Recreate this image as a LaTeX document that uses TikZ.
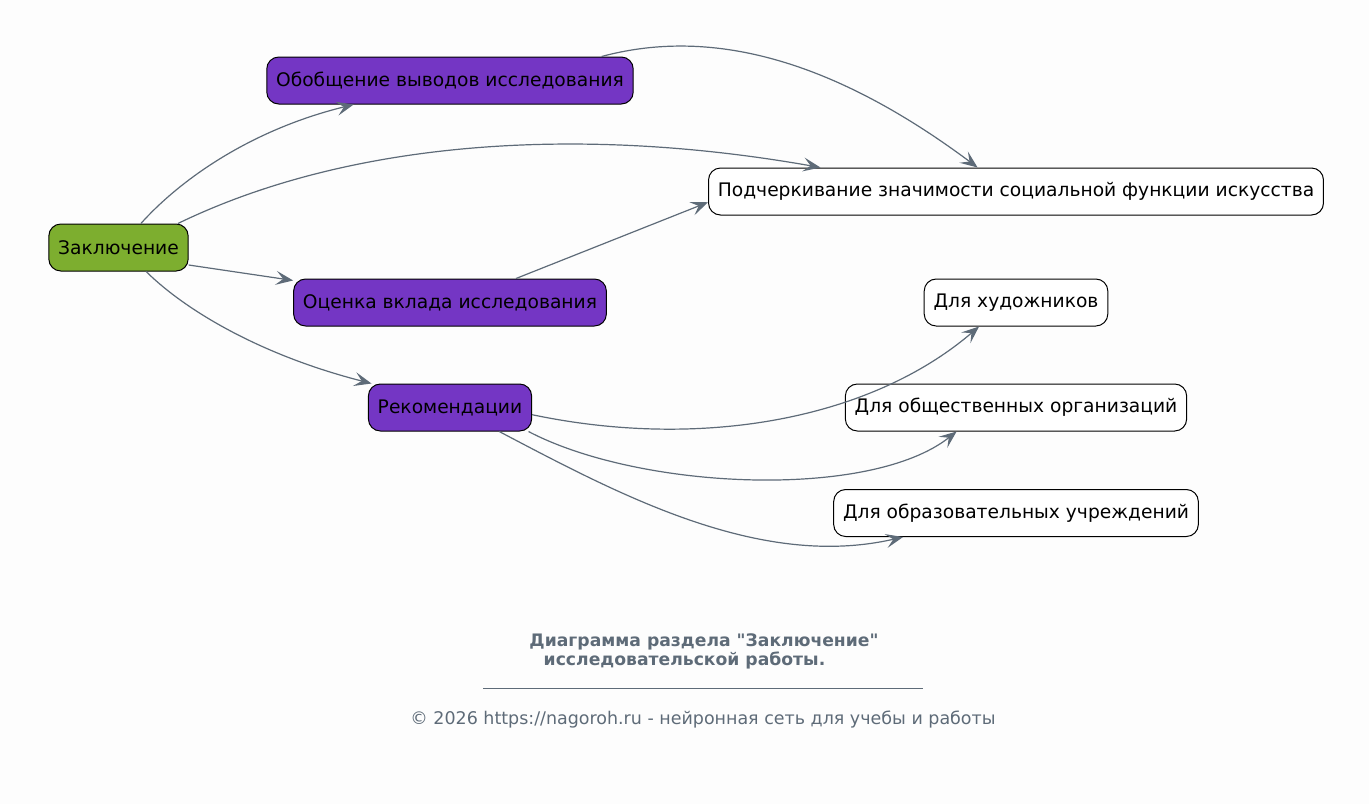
\documentclass[tikz,border=0pt]{standalone}
\usepackage{fontspec}
\setmainfont{DejaVu Sans}[Ligatures=TeXOff]
\usetikzlibrary{arrows.meta}
\definecolor{edgegray}{RGB}{94,107,120}
\definecolor{rootgreen}{RGB}{125,174,47}
\definecolor{midpurple}{RGB}{116,54,196}
\definecolor{pagebg}{RGB}{253,253,253}
\tikzset{>={Stealth[length=13pt,width=10.5pt,inset=5.5pt]},
  box/.style={draw=black,line width=0.75pt,rounded corners=9pt,
    minimum height=35.25pt,inner xsep=7pt,font=\fontsize{14}{17}\selectfont},
  rootbox/.style={box,fill=rootgreen},
  midbox/.style={box,fill=midpurple},
  leafbox/.style={box,fill=white},
  edge/.style={->,draw=edgegray,line width=0.9pt},
  caption/.style={text=edgegray,font=\fontsize{13.1}{15}\selectfont},
  titlecap/.style={text=edgegray,font=\fontsize{12.9}{15}\selectfont\bfseries}}

\begin{document}
\begin{tikzpicture}[x=0.75pt,y=0.75pt]
  \fill[pagebg] (0,0) rectangle (1369,-804);
  \useasboundingbox (0,0) rectangle (1369,-804);
  % nodes
  \node[rootbox] (zak) at (118.5,-247.5) {Заключение};
  \node[midbox] (obo) at (450,-80.5) {Обобщение выводов исследования};
  \node[midbox] (ocen) at (450,-302.5) {Оценка вклада исследования};
  \node[midbox] (rek) at (450,-407.5) {Рекомендации};
  \node[leafbox] (pod) at (1016,-191.5)
    {Подчеркивание значимости социальной функции искусства};
  \node[leafbox] (hud) at (1016,-302.5) {Для художников};
  \node[leafbox] (obsh) at (1016,-407.5) {Для общественных организаций};
  \node[leafbox] (obr) at (1016,-513) {Для образовательных учреждений};
  % connectors
  \draw[edge] (zak.47.5) .. controls (180,-180) and (250,-130) .. (obo.194.2);
  \draw[edge] (zak.22.2) .. controls (350,-140) and (580,-125) .. (pod.173.4);
  \draw[edge] (zak.-14) -- (ocen.172.8);
  \draw[edge] (zak.-41.6) .. controls (185,-310) and (260,-355) .. (rek.163);
  \draw[edge] (obo.9.1) .. controls (700,-30) and (820,-50) .. (pod.148.3);
  \draw[edge] (ocen.20.8) -- (pod.182.7);
  \draw[edge] (rek.-5.9) .. controls (700,-450) and (870,-420) .. (hud.213);
  \draw[edge] (rek.-17) .. controls (640,-490) and (870,-500) .. (obsh.202.8);
  \draw[edge] (rek.-26.6) .. controls (620,-495) and (760,-570) .. (obr.192.4);
  % caption
  \node[titlecap] (title1) at (704,-642)
    {Диаграмма раздела "Заключение"};
  \node[titlecap] (title2) at (684.5,-660) {исследовательской работы.};
  \draw[edgegray,line width=0.5pt] (483,-688) -- (923,-688);
  \node[caption] (footer) at (703,-720)
    {© 2026 https://nagoroh.ru - нейронная сеть для учебы и работы};
\end{tikzpicture}
\end{document}
